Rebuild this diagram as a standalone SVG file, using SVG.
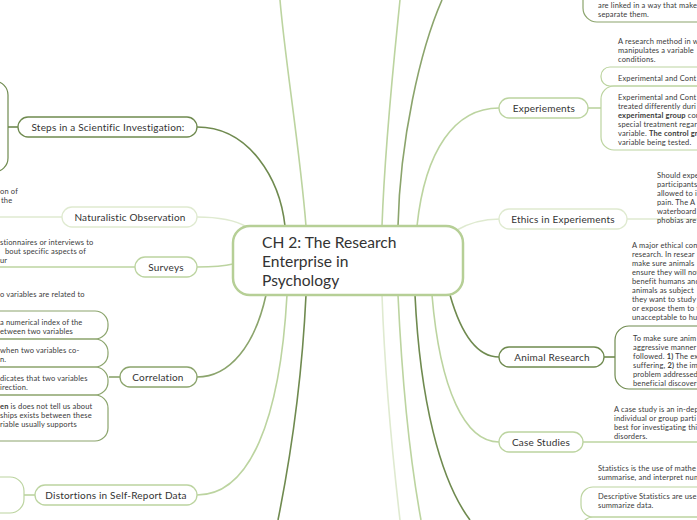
<svg xmlns="http://www.w3.org/2000/svg" width="697" height="520" viewBox="0 0 697 520">
<style>
text{font-family:Lato,"Noto Sans","Liberation Sans",sans-serif;fill:#333}
.t{font-size:7.5px;letter-spacing:0.15px;fill:#3a3a3a}
.n{font-size:10px;text-anchor:middle;letter-spacing:0.2px}
.b{font-weight:bold}
.c{fill:none;stroke-width:1.6}
.box{fill:#fff;stroke-width:1.3}
.br{fill:none;stroke-width:1.2}
.dk{stroke:#6f8a4f}
.md{stroke:#8ba46c}
.lt{stroke:#bcd4a0}
.vl{stroke:#dfead0}
</style>
<rect width="697" height="520" fill="#fff"/>
<g id="connectors">
<path class="c dk" d="M197,127 C250,127 280,180 285,226"/>
<path class="c lt" d="M306,226 C300,150 285,60 280,0"/>
<path class="c lt" d="M382,226 C385,140 395,50 400,0"/>
<path class="c md" d="M398,226 C400,140 420,50 442,0"/>
<path class="c lt" d="M417,226 C425,150 455,108 499,108"/>
<path class="c vl" d="M455,231 C470,222 485,219 500,219"/>
<path class="c vl" d="M197,217 C220,217 235,220 247,227"/>
<path class="c lt" d="M197,267 C215,267 225,266 233,264"/>
<path class="c md" d="M266,295 C255,345 230,377 197,377"/>
<path class="c lt" d="M287,295 C280,420 250,495 197,495"/>
<path class="c dk" d="M306,295 C302,380 290,460 278,520"/>
<path class="c vl" d="M382,295 C385,380 393,460 400,520"/>
<path class="c lt" d="M398,295 C402,380 410,460 421,520"/>
<path class="c dk" d="M415,295 C420,400 440,480 470,520"/>
<path class="c lt" d="M432,295 C440,390 465,442 499,442"/>
<path class="c dk" d="M450,295 C460,330 475,357 499,357"/>
<path class="c dk" d="M8,127 H18"/>
<path class="c vl" d="M62,217 H0"/>
<path class="c lt" d="M135,267 H0"/>
<path class="c md" d="M109,377 H120"/>
<path class="c lt" d="M24,495 H35"/>
<path class="c lt" d="M588,108 H601"/>
<path class="c vl" d="M627,219 H697"/>
<path class="c dk" d="M604,357 H615"/>
<path class="c lt" d="M583,442 H697"/>
</g>
<g id="brackets">
<rect class="br dk" x="-60" y="81" width="68" height="91" rx="14"/>
<rect class="br md" x="-100" y="311" width="208" height="28" rx="13"/>
<rect class="br md" x="-100" y="339" width="208" height="28" rx="13"/>
<rect class="br md" x="-100" y="367" width="208" height="28" rx="13"/>
<rect class="br md" x="-100" y="395" width="208" height="46" rx="13"/>
<rect class="br lt" x="-60" y="477" width="84" height="36" rx="14"/>
<rect class="br lt" x="601" y="67" width="200" height="19" rx="9"/>
<rect class="br lt" x="601" y="86" width="200" height="64" rx="13"/>
<rect class="br md" x="583" y="-60" width="200" height="82" rx="14"/>
<rect class="br dk" x="615" y="326" width="200" height="63" rx="14"/>
<rect class="br lt" x="581" y="487" width="200" height="30" rx="12"/>
<rect class="br lt" x="581" y="517" width="200" height="40" rx="12"/>
</g>
<g id="center">
<rect x="233" y="226" width="230" height="69" rx="17" fill="#fff" stroke="#b6cf96" stroke-width="2.5"/>
<text x="262" y="248" font-size="15.6">CH 2: The Research</text>
<text x="262" y="267" font-size="15.6">Enterprise in</text>
<text x="262" y="286" font-size="15.6">Psychology</text>
</g>
<g id="steps">
<rect class="box dk" x="18" y="117" width="179" height="20" rx="10"/>
<text class="n" x="108" y="130.5">Steps in a Scientific Investigation:</text>
</g>
<g id="naturalistic">
<rect class="box vl" x="62" y="207" width="135" height="20" rx="10"/>
<text class="n" x="130" y="220.5">Naturalistic Observation</text>
<text class="t" x="0" y="194">on of</text>
<text class="t" x="1" y="203">the</text>
</g>
<g id="surveys">
<rect class="box lt" x="135" y="257" width="62" height="20" rx="10"/>
<text class="n" x="166" y="270.5">Surveys</text>
<text class="t" x="0" y="244.5">stionnaires or interviews to</text>
<text class="t" x="5" y="253.5">bout specific aspects of</text>
<text class="t" x="0" y="262.5">ur</text>
</g>
<g id="correlation">
<rect class="box md" x="120" y="367" width="77" height="20" rx="10"/>
<text class="n" x="158" y="380.5">Correlation</text>
<text class="t" x="0" y="296.5">o variables are related to</text>
<text class="t" x="0" y="324.5">a numerical index of the</text>
<text class="t" x="0" y="333.5">etween two variables</text>
<text class="t" x="0" y="353">when two variables co-</text>
<text class="t" x="0" y="362">n.</text>
<text class="t" x="0" y="380.5">dicates that two variables</text>
<text class="t" x="0" y="389.5">irection.</text>
<text class="t" x="0" y="409"><tspan class="b">en</tspan> is does not tell us about</text>
<text class="t" x="0" y="418">ships exists between these</text>
<text class="t" x="0" y="427">riable usually supports</text>
</g>
<g id="distortions">
<rect class="box lt" x="35" y="485" width="162" height="20" rx="10"/>
<text class="n" x="116" y="498.5">Distortions in Self-Report Data</text>
</g>
<g id="topright">
<text class="t" x="598" y="8">are linked in a way that make</text>
<text class="t" x="598" y="17">separate them.</text>
</g>
<g id="experiements">
<rect class="box lt" x="499" y="98" width="89" height="20" rx="10"/>
<text class="n" x="544" y="111.5">Experiements</text>
<text class="t" x="618" y="44">A research method in w</text>
<text class="t" x="618" y="53">manipulates a variable</text>
<text class="t" x="618" y="62">conditions.</text>
<text class="t" x="618" y="81">Experimental and Cont</text>
<text class="t" x="618" y="100">Experimental and Cont</text>
<text class="t" x="618" y="109">treated differently duri</text>
<text class="t" x="618" y="118"><tspan class="b">experimental group</tspan> con</text>
<text class="t" x="618" y="127">special treatment regar</text>
<text class="t" x="618" y="136">variable. <tspan class="b">The control gr</tspan></text>
<text class="t" x="618" y="145">variable being tested.</text>
</g>
<g id="ethics">
<rect class="box vl" x="499" y="209" width="128" height="20" rx="10"/>
<text class="n" x="563" y="222.5">Ethics in Experiements</text>
<text class="t" x="657" y="178">Should expe</text>
<text class="t" x="657" y="187">participants</text>
<text class="t" x="657" y="196">allowed to i</text>
<text class="t" x="657" y="205">pain.  The A</text>
<text class="t" x="657" y="214">waterboard</text>
<text class="t" x="657" y="223">phobias are</text>
</g>
<g id="animal">
<rect class="box dk" x="499" y="347" width="105" height="20" rx="10"/>
<text class="n" x="552" y="360.5">Animal Research</text>
<text class="t" x="632" y="248">A major ethical con</text>
<text class="t" x="632" y="257">research. In resear</text>
<text class="t" x="632" y="266">make sure animals</text>
<text class="t" x="632" y="275">ensure they will not</text>
<text class="t" x="632" y="284">benefit humans and</text>
<text class="t" x="632" y="293">animals as subject</text>
<text class="t" x="632" y="302">they want to study</text>
<text class="t" x="632" y="311">or expose them to t</text>
<text class="t" x="632" y="320">unacceptable to hu</text>
<text class="t" x="633" y="340.5"> To make sure anim</text>
<text class="t" x="633" y="349.5">aggressive manner</text>
<text class="t" x="633" y="358.5">followed. <tspan class="b">1)</tspan> The ex</text>
<text class="t" x="633" y="367.5">suffering, <tspan class="b">2)</tspan> the im</text>
<text class="t" x="633" y="376.5">problem addressed</text>
<text class="t" x="633" y="385.5">beneficial discoveri</text>
</g>
<g id="case">
<rect class="box lt" x="499" y="432" width="84" height="20" rx="10"/>
<text class="n" x="541" y="445.5">Case Studies</text>
<text class="t" x="614" y="411.5">A case study is an in-dep</text>
<text class="t" x="614" y="420.5">individual or group parti</text>
<text class="t" x="614" y="429.5">best for investigating thi</text>
<text class="t" x="614" y="438.5">disorders.</text>
</g>
<g id="statistics">
<text class="t" x="598" y="471">Statistics is the use of mathe</text>
<text class="t" x="598" y="480">summarise, and interpret num</text>
<text class="t" x="598" y="499">Descriptive Statistics are use</text>
<text class="t" x="598" y="508">summarize data.</text>
</g>
</svg>
